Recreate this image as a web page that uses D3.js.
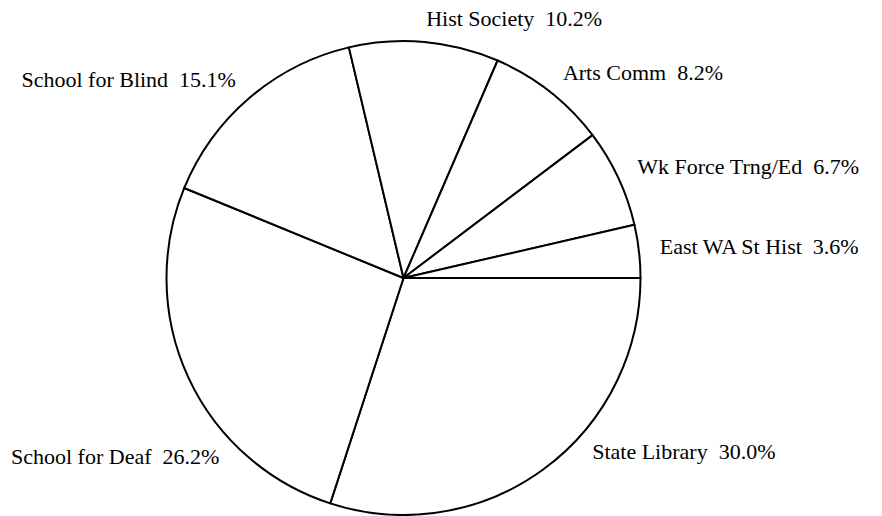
<!DOCTYPE html>
<html>
<head>
<meta charset="utf-8">
<script src="https://cdn.jsdelivr.net/npm/d3@7"></script>
<style>
  html, body { margin: 0; padding: 0; background: #fff; }
  svg { display: block; }
</style>
</head>
<body>
<svg id="chart" width="882" height="516"></svg>
<script>
// Data (clockwise from 3 o'clock)
const categories = ["State Library", "School for Deaf", "School for Blind", "Hist Society", "Arts Comm", "Wk Force Trng/Ed", "East WA St Hist"];
const values = [30.0, 26.2, 15.1, 10.2, 8.2, 6.7, 3.6];

const W = 882, H = 516;
const cx = 403.5, cy = 278, R = 237, RL = 258;
const fontSize = 22, margin = 11;
const maxLowerAngle = 43 * Math.PI / 180; // lower labels kept within this angle of horizontal

const svg = d3.select("#chart");
const g = svg.append("g").attr("transform", `translate(${cx},${cy})`);

const pie = d3.pie().sort(null).value(d => d.v)
  .startAngle(Math.PI / 2).endAngle(Math.PI / 2 + 2 * Math.PI);
const data = categories.map((c, i) => ({ c, v: values[i] }));
const arcs = pie(data);
const arc = d3.arc().innerRadius(0).outerRadius(R);

g.selectAll("path.slice").data(arcs).join("path")
  .attr("class", "slice")
  .attr("d", arc)
  .attr("fill", "#fff")
  .attr("stroke", "#000")
  .attr("stroke-width", 2)
  .attr("stroke-linejoin", "round");

// Labels
const labels = g.selectAll("text.lbl").data(arcs).join("text")
  .attr("class", "lbl")
  .attr("font-family", "'Liberation Serif', 'Times New Roman', serif")
  .attr("font-size", fontSize)
  .attr("fill", "#000")
  .style("white-space", "pre")
  .attr("xml:space", "preserve")
  .text(d => `${d.data.c}  ${d.data.v.toFixed(1)}%`);

labels.each(function(d) {
  const t = d3.select(this);
  const w = this.getComputedTextLength();
  // svg angle clockwise from east
  let phi = (d.startAngle + d.endAngle) / 2 - Math.PI / 2;
  phi = ((phi % (2 * Math.PI)) + 2 * Math.PI) % (2 * Math.PI);
  const right = Math.cos(phi) >= 0;
  // keep lower labels within max angle of horizontal
  if (Math.sin(phi) > 0) {
    if (right) phi = Math.min(phi, maxLowerAngle);
    else phi = Math.max(phi, Math.PI - maxLowerAngle);
  }
  // keep left labels inside the canvas by sliding along the label circle
  if (!right) {
    const minX = margin + w - cx;
    if (RL * Math.cos(phi) < minX) {
      const a = Math.acos(minX / RL);
      phi = Math.sin(phi) > 0 ? a : 2 * Math.PI - a;
    }
  }
  const x = RL * Math.cos(phi), y = RL * Math.sin(phi);
  t.attr("x", x).attr("y", y + 5)
   .attr("text-anchor", right ? "start" : "end");
});
</script>
</body>
</html>
